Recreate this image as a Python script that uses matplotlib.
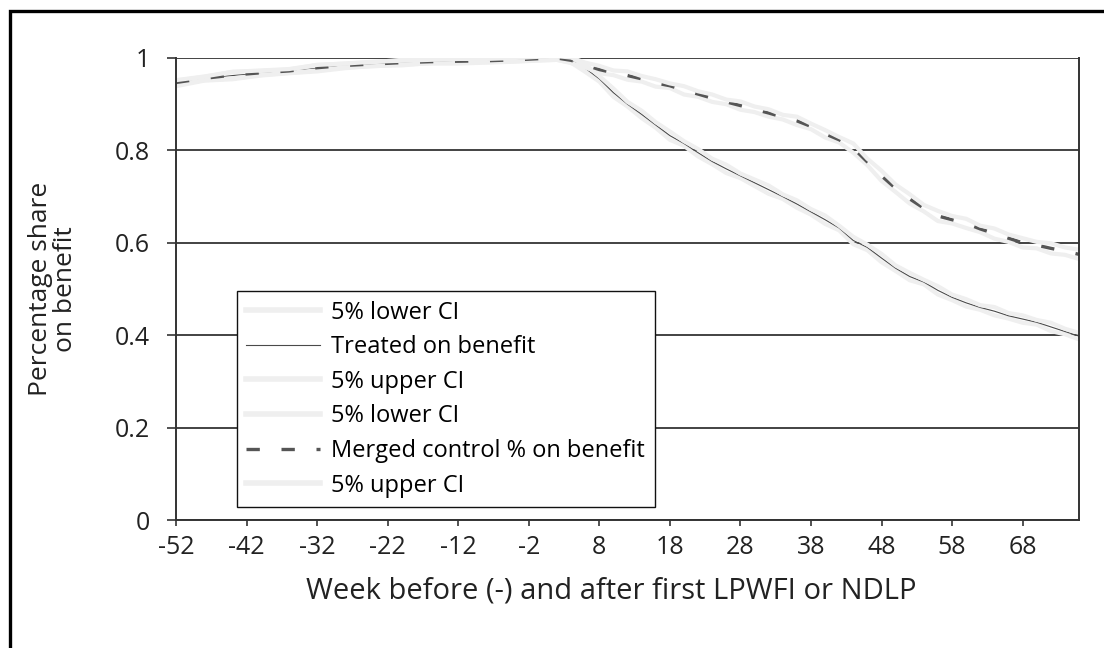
import numpy as np
import matplotlib
matplotlib.use("Agg")
import matplotlib.pyplot as plt
from matplotlib.patches import Rectangle
from matplotlib.ticker import FormatStrFormatter

plt.rcParams['font.family'] = ['Open Sans', 'DejaVu Sans']
plt.rcParams['axes.unicode_minus'] = False

# weeks relative to first LPWFI / NDLP
weeks = [-52, -48, -44, -40, -36, -32, -28, -24, -20, -16, -12, -8, -4, 0,
         2, 4, 6, 8, 10, 12, 14, 16, 18, 20, 22, 24, 26, 28, 30, 32, 34, 36,
         38, 40, 42, 44, 46, 48, 50, 52, 54, 56, 58, 60, 62, 64, 66, 68, 70,
         72, 74, 76]

treated = [0.945, 0.955, 0.962, 0.967, 0.971, 0.978, 0.983, 0.987, 0.990,
           0.993, 0.995, 0.996, 0.997, 0.999,
           1.000, 0.995, 0.978, 0.955, 0.925, 0.900, 0.878, 0.855, 0.832,
           0.815, 0.795, 0.776, 0.760, 0.745, 0.730, 0.715, 0.700, 0.684,
           0.667, 0.650, 0.632, 0.605, 0.590, 0.567, 0.545, 0.527, 0.515,
           0.497, 0.482, 0.470, 0.460, 0.452, 0.442, 0.435, 0.428, 0.418,
           0.408, 0.398]

control = [0.947, 0.956, 0.963, 0.968, 0.972, 0.979, 0.984, 0.987, 0.990,
           0.992, 0.993, 0.994, 0.996, 0.999,
           1.000, 0.995, 0.985, 0.975, 0.968, 0.962, 0.955, 0.946, 0.940,
           0.930, 0.922, 0.913, 0.905, 0.897, 0.889, 0.881, 0.872, 0.864,
           0.852, 0.836, 0.823, 0.805, 0.775, 0.745, 0.718, 0.695, 0.675,
           0.658, 0.650, 0.642, 0.630, 0.620, 0.610, 0.600, 0.595, 0.588,
           0.582, 0.575]

# half-width of the 5% confidence band around each series
treated_ci = [0.006, 0.004, 0.008, 0.005, 0.004, 0.007, 0.005, 0.004, 0.006,
              0.004, 0.004, 0.005, 0.004, 0.004,
              0.004, 0.005, 0.008, 0.006, 0.009, 0.005, 0.008, 0.006, 0.009,
              0.005, 0.008, 0.006, 0.009, 0.005, 0.007, 0.009, 0.005, 0.008,
              0.006, 0.009, 0.005, 0.008, 0.006, 0.009, 0.006, 0.008, 0.005,
              0.009, 0.006, 0.008, 0.005, 0.009, 0.006, 0.008, 0.005, 0.009,
              0.006, 0.007]

control_ci = [0.005, 0.004, 0.007, 0.005, 0.004, 0.006, 0.004, 0.005, 0.004,
              0.004, 0.005, 0.004, 0.004, 0.004,
              0.004, 0.006, 0.005, 0.008, 0.005, 0.009, 0.006, 0.008, 0.005,
              0.009, 0.006, 0.008, 0.005, 0.009, 0.006, 0.008, 0.005, 0.009,
              0.006, 0.008, 0.006, 0.010, 0.007, 0.011, 0.008, 0.010, 0.007,
              0.011, 0.008, 0.010, 0.007, 0.011, 0.008, 0.010, 0.007, 0.011,
              0.008, 0.010]

x_ticks = [-52, -42, -32, -22, -12, -2, 8, 18, 28, 38, 48, 58, 68]
y_ticks = [0, 0.2, 0.4, 0.6, 0.8, 1]

wk = np.array(weeks)
tr = np.array(treated)
co = np.array(control)
tr_hw = np.array(treated_ci)
co_hw = np.array(control_ci)

band_col = '#efefef'
band_lw = 3.0
dark = '#4a4a4a'
text_col = '#222222'

fig = plt.figure(figsize=(11.04, 6.48), dpi=100)
ax = fig.add_axes([0.1594, 0.1975, 0.8180, 0.7130])

ax.plot(wk, tr - tr_hw, color=band_col, lw=band_lw, label='5% lower CI')
ax.plot(wk, tr, color=dark, lw=0.8, label='Treated on benefit')
ax.plot(wk, tr + tr_hw, color=band_col, lw=band_lw, label='5% upper CI')
ax.plot(wk, co - co_hw, color=band_col, lw=band_lw, label='5% lower CI')
ax.plot(wk, co, color='#555555', lw=2.4, dashes=(4.0, 6.5),
        label='Merged control % on benefit')
ax.plot(wk, co + co_hw, color=band_col, lw=band_lw, label='5% upper CI')

ax.set_xlim(-52, 76)
ax.set_ylim(0, 1)
ax.set_xticks(x_ticks)
ax.set_yticks(y_ticks)
ax.yaxis.set_major_formatter(FormatStrFormatter('%g'))
ax.grid(axis='y', color='#222222', lw=1.2)
ax.set_axisbelow(True)

for side in ['left', 'bottom', 'right']:
    ax.spines[side].set_color('#333333')
    ax.spines[side].set_linewidth(1.4)
ax.spines['top'].set_visible(False)

ax.tick_params(axis='y', length=6.5, width=1.2, color='#333333', pad=12,
               labelsize=18, labelcolor=text_col)
ax.tick_params(axis='x', length=4, width=1.2, color='#333333', pad=7,
               labelsize=18, labelcolor=text_col)

ax.set_xlabel('Week before (-) and after first LPWFI or NDLP', fontsize=21,
              color=text_col)
ax.xaxis.set_label_coords(0.482, -0.122)
ax.set_ylabel('Percentage share\non benefit', fontsize=19, color=text_col,
              linespacing=1.0)
ax.yaxis.set_label_coords(-0.108, 0.5)

leg = ax.legend(loc='lower left', bbox_to_anchor=(0.0676, 0.028),
                borderaxespad=0, fontsize=17, frameon=True, fancybox=False,
                framealpha=1, edgecolor='#111111', handlelength=3.1,
                handletextpad=0.5, labelspacing=0.45, borderpad=0.4)
leg.get_frame().set_linewidth(1.0)
for line in leg.get_lines():
    if line.get_color() == band_col:
        line.set_linewidth(4.0)

# outer frame of the exhibit
fig.add_artist(Rectangle((10 / 1104, -0.1), 1.2, 1 - 11 / 648 + 0.1,
                         transform=fig.transFigure, fill=False,
                         edgecolor='black', lw=2.4))

fig.savefig('out.png', dpi=100)
